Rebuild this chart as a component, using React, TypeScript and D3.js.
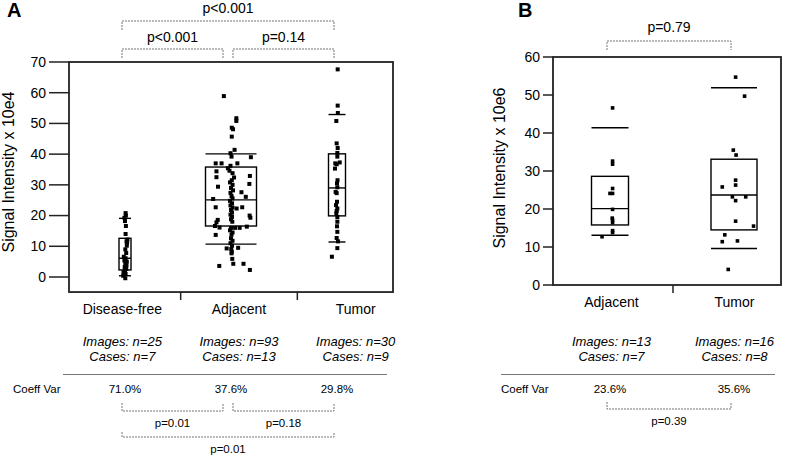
import * as React from 'react'
import * as d3 from 'd3'

const FONT = '"Liberation Sans", Arial, Helvetica, sans-serif'

// ---- panel A data (signal intensity x 10e4)
const catsA = ['Disease-free', 'Adjacent', 'Tumor']
const ticksA = [0, 10, 20, 30, 40, 50, 60, 70]
const lowA = [0.4, 10.7, 11.4]
const q1A = [2.3, 16.6, 19.9]
const medA = [6.1, 25.1, 29.0]
const q3A = [12.6, 35.8, 40.1]
const highA = [19.1, 40.1, 52.9]
const imagesA = [25, 93, 30]
const casesA = [7, 13, 9]
const cvA = ['71.0%', '37.6%', '29.8%']

// [value, jitter in box half-widths]
const diseaseFreeA = [
  [20.8, 0.1], [20.0, 0.15], [19.3, -0.1], [18.2, 0.0], [16.6, 0.15], [14.0, 0.1],
  [12.2, 0.4], [11.6, 0.25], [11.2, 0.35], [10.2, 0.3], [9.0, 0.05], [7.8, 0.2],
  [6.6, -0.2], [6.1, 0.1], [5.4, -0.1], [5.0, 0.3], [4.3, 0.05], [3.8, 0.25],
  [3.2, -0.05], [2.6, 0.2], [2.0, 0.0], [1.6, -0.25], [1.0, 0.1], [0.4, -0.3], [-0.4, 0.05],
]
const adjacentA = [
  [58.9, -0.28], [51.7, 0.21], [50.8, 0.21], [48.6, 0.03], [48.1, 0.08], [45.7, 0.03],
  [41.4, 0.14], [40.3, -0.02], [39.2, 0.02], [39.0, 0.78],
  [37.0, -0.6], [37.0, -0.37], [37.0, 0.25],
  [36.2, -0.02], [35.4, -0.12], [34.6, -0.06], [33.8, 0.06],
  [34.4, -0.57], [32.5, -0.57], [32.9, 0.74],
  [32.4, 0.12], [31.5, 0.03], [30.8, -0.04], [30.0, 0.06], [29.0, 0.0], [28.2, 0.08], [27.4, -0.02],
  [29.4, -0.51], [30.3, 0.72], [27.6, 0.41], [25.4, -0.7], [26.1, 0.58],
  [26.4, 0.02], [25.6, 0.06], [24.8, -0.04], [24.0, 0.04], [23.3, -0.02], [22.6, 0.06],
  [21.8, 0.0], [21.0, 0.04], [20.3, -0.02], [19.6, 0.04], [18.8, 0.0], [18.0, 0.05],
  [22.7, -0.6], [22.7, 0.44], [22.3, 0.22], [20.0, 0.73], [19.3, 0.76],
  [18.6, -0.52], [17.8, -0.57], [16.6, -0.63],
  [16.1, -0.45], [16.0, 0.0], [16.0, 0.16], [16.0, 0.34], [16.4, 0.62],
  [15.2, -0.04], [14.5, 0.06], [13.7, -0.6], [13.8, 0.02],
  [12.6, 0.0], [11.8, 0.06], [11.0, -0.02], [10.2, 0.04],
  [9.3, -0.17], [9.1, 0.01], [9.5, 0.28], [8.2, 0.03], [7.7, 0.02], [5.9, 0.05],
  [3.6, -0.46], [4.3, 0.09], [4.3, 0.49], [2.3, 0.74],
]
const tumorA = [
  [67.6, 0.08], [55.8, 0.08], [53.4, 0.1], [50.8, -0.08], [43.5, -0.04], [42.0, 0.08],
  [40.4, 0.04], [39.2, 0.04], [37.3, 0.32], [37.0, -0.2], [36.7, -0.04], [35.3, -0.24],
  [31.5, 0.06], [30.5, 0.0], [29.2, 0.04], [27.7, -0.16], [27.3, -0.04], [24.5, 0.0],
  [23.4, -0.12], [22.3, 0.04], [21.5, -0.04], [20.7, -0.08], [19.5, 0.04], [18.0, 0.04],
  [16.5, 0.0], [14.7, 0.04], [12.7, -0.04], [11.6, 0.12], [9.4, 0.04], [6.6, -0.6],
]
const topBracketsA = [
  { a: 0, b: 2, level: 1, label: 'p<0.001' },
  { a: 0, b: 1, level: 0, label: 'p<0.001' },
  { a: 1, b: 2, level: 0, label: 'p=0.14' },
]
const cvBracketsA = [
  { a: 0, b: 1, level: 0, label: 'p=0.01' },
  { a: 1, b: 2, level: 0, label: 'p=0.18' },
  { a: 0, b: 2, level: 1, label: 'p=0.01' },
]

// ---- panel B data (signal intensity x 10e6)
const catsB = ['Adjacent', 'Tumor']
const ticksB = [0, 10, 20, 30, 40, 50, 60]
const lowB = [13.1, 9.6]
const q1B = [15.8, 14.5]
const medB = [20.1, 23.7]
const q3B = [28.6, 33.1]
const highB = [41.4, 51.9]
const imagesB = [13, 16]
const casesB = [7, 8]
const cvB = ['23.6%', '35.6%']
const adjacentB = [
  [46.6, 0.14], [32.6, 0.14], [31.8, 0.14], [25.4, 0.14], [24.1, 0.0], [24.1, 0.14],
  [19.9, 0.14], [17.6, 0.12], [17.1, 0.14], [16.4, 0.14], [14.3, 0.14], [13.8, 0.14], [12.7, -0.43],
]
const tumorB = [
  [54.7, 0.07], [49.7, 0.46], [35.5, -0.03], [34.2, 0.09], [27.6, 0.07], [26.3, 0.07],
  [25.8, -0.51], [23.2, -0.07], [23.2, 0.51], [22.2, 0.07], [16.8, 0.07], [15.5, 0.85],
  [13.2, -0.4], [11.4, -0.51], [11.6, 0.15], [4.1, -0.25],
]
const topBracketsB = [{ a: 0, b: 1, level: 0, label: 'p=0.79' }]
const cvBracketsB = [{ a: 0, b: 1, level: 0, label: 'p=0.39' }]

const panels = [
  {
    letter: 'A', letterX: 7, title: 'Signal Intensity x 10e4', titleX: 14, titleY: 172,
    cats: catsA, ticks: ticksA, low: lowA, q1: q1A, med: medA, q3: q3A, high: highA,
    points: [diseaseFreeA, adjacentA, tumorA], boxW: [12, 51, 17], dot: 4,
    images: imagesA, cases: casesA, cv: cvA,
    y: d3.scaleLinear().domain([0, 70]).range([277, 62]), yMin: -4.9,
    frame: [69, 393], boxRange: [72, 390], labelRange: [64, 414], tickLen: 20,
    top: topBracketsA, topLevels: [49, 21], topText: [42, 13],
    cvB: cvBracketsA, cvLevels: [[403, 411], [432, 437]], cvText: [427, 453],
    rule: [63, 387], coeffX: 13,
  },
  {
    letter: 'B', letterX: 518, title: 'Signal Intensity x 10e6', titleX: 505, titleY: 168,
    cats: catsB, ticks: ticksB, low: lowB, q1: q1B, med: medB, q3: q3B, high: highB,
    points: [adjacentB, tumorB], boxW: [37, 46], dot: 3.6,
    images: imagesB, cases: casesB, cv: cvB,
    y: d3.scaleLinear().domain([0, 60]).range([285, 57]), yMin: 0,
    frame: [553, 781], boxRange: [548, 796], labelRange: [550, 796], tickLen: 10,
    top: topBracketsB, topLevels: [41], topText: [32],
    cvB: cvBracketsB, cvLevels: [[402, 409]], cvText: [425],
    rule: [501, 775], coeffX: 501,
  },
]

function Brackets({ list, x, lineY, textY, up }) {
  return (
    <g>
      {list.map((br, i) => {
        const same = list.filter(o => o !== br && o.level === br.level)
        const x1 = x(br.a) - 3 + (same.some(o => o.b === br.a) ? 5 : 0)
        const x2 = x(br.b) - 3 - (same.some(o => o.a === br.b) ? 5 : 0)
        const ly = lineY[br.level]
        const path = up
          ? `M${x1},${ly[0]}V${ly[1]}H${x2}V${ly[0]}`
          : `M${x1},${ly + 9}V${ly}H${x2}V${ly + 9}`
        return (
          <g key={i}>
            <path d={path} fill="none" stroke="#777" strokeWidth={1} strokeDasharray="2,1" />
            <text x={(x1 + x2) / 2} y={textY[br.level]} textAnchor="middle"
              fontSize={up ? 11.5 : 14}>{br.label}</text>
          </g>
        )
      })}
    </g>
  )
}

function Panel({ p }) {
  const y = p.y
  const xBox = d3.scalePoint().domain(p.cats).range(p.boxRange).padding(0.5)
  const xLab = d3.scaleBand().domain(p.cats).range(p.labelRange)
  const top = y.domain()[1]
  const bottom = y(p.yMin)
  const xi = (i: number) => xBox(p.cats[i]) as number
  return (
    <g fontFamily={FONT}>
      <text x={p.letterX} y={17} fontSize={20} fontWeight="bold">{p.letter}</text>
      <text transform={`translate(${p.titleX},${p.titleY}) rotate(-90)`} textAnchor="middle"
        fontSize={16}>{p.title}</text>

      <Brackets list={p.top} x={xi} lineY={p.topLevels} textY={p.topText} up={false} />

      {/* frame */}
      <rect x={p.frame[0]} y={y(top)} width={p.frame[1] - p.frame[0]} height={bottom - y(top)}
        fill="none" stroke="#222" strokeWidth={1.8} />

      {p.ticks.map(t => (
        <g key={t}>
          <line x1={p.frame[0] - p.tickLen} x2={p.frame[0]} y1={y(t)} y2={y(t)} stroke="#222" strokeWidth={1.5} />
          <text x={p.frame[0] - p.tickLen - 3} y={y(t)} dy="0.35em" textAnchor="end" fontSize={14}>{t}</text>
        </g>
      ))}

      {p.cats.slice(1).map(c => (
        <line key={c} x1={xLab(c)} x2={xLab(c)} y1={bottom} y2={bottom + 8} stroke="#222" strokeWidth={1.5} />
      ))}

      {p.cats.map((c, i) => {
        const cx = xBox(c) as number
        const hw = p.boxW[i] / 2
        return (
          <g key={c}>
            <rect x={cx - hw} y={y(p.q3[i])} width={hw * 2} height={y(p.q1[i]) - y(p.q3[i])}
              fill="none" stroke="#000" strokeWidth={1.4} />
            {[p.med[i], p.low[i], p.high[i]].map((v, k) => (
              <line key={k} x1={cx - hw} x2={cx + hw} y1={y(v)} y2={y(v)} stroke="#000" strokeWidth={1.4} />
            ))}
            {p.points[i].map(([v, dx], k) => (
              <rect key={k} x={cx + dx * hw - p.dot / 2} y={y(v) - p.dot / 2} width={p.dot} height={p.dot} fill="#000" />
            ))}
          </g>
        )
      })}

      {p.cats.map((c, i) => {
        const lx = (xLab(c) as number) + xLab.bandwidth() / 2
        return (
          <g key={c}>
            <text x={lx} y={bottom + 22} textAnchor="middle" fontSize={14}>{c}</text>
            <text x={lx} y={346} textAnchor="middle" fontSize={13} fontStyle="italic">{`Images: n=${p.images[i]}`}</text>
            <text x={lx} y={361} textAnchor="middle" fontSize={13} fontStyle="italic">{`Cases: n=${p.cases[i]}`}</text>
            <text x={xi(i)} y={393} textAnchor="middle" fontSize={11.5}>{p.cv[i]}</text>
          </g>
        )
      })}

      <line x1={p.rule[0]} x2={p.rule[1]} y1={374.5} y2={374.5} stroke="#777" strokeWidth={1.2} />
      <text x={p.coeffX} y={393} fontSize={11.5}>Coeff Var</text>

      <Brackets list={p.cvB} x={xi} lineY={p.cvLevels} textY={p.cvText} up={true} />
    </g>
  )
}

export default function App() {
  return (
    <svg width={800} height={455} style={{ position: 'absolute', left: 0, top: 0, background: '#fff' }}>
      <rect width={800} height={455} fill="#fff" />
      {panels.map(p => <Panel key={p.letter} p={p} />)}
    </svg>
  )
}
